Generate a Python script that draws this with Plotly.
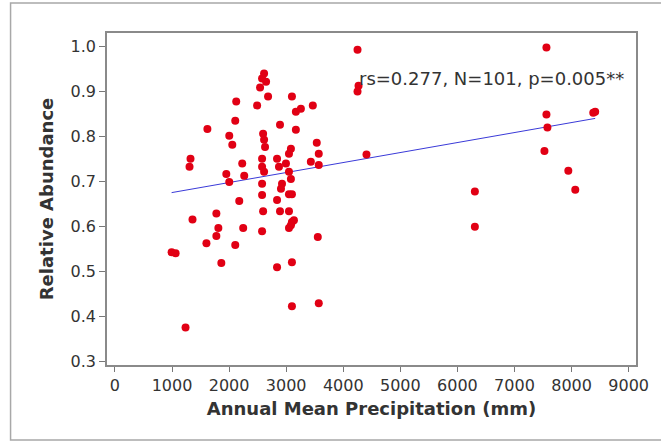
import plotly.graph_objects as go

# Data (Annual mean precipitation in mm, relative abundance)
precip = [2613, 2578, 2648, 2543, 2125, 2683, 2491, 3101, 3170, 3258,
          3467, 2108, 1620, 2892, 3170, 2003, 2596, 2613, 2630, 2056,
          3536, 3083, 3049, 3571, 1324, 1307, 2230, 2578, 2578, 2613,
          2840, 2874, 2996, 3049, 3083, 3432, 3571, 1951, 2003, 2265,
          2578, 2927, 2909, 2578, 2840, 3101, 2178, 3049, 1359, 1777,
          2596, 2892, 3049, 3136, 3101, 3083, 3049, 1812, 1777, 2247,
          2578, 1603, 2108, 3554, 993, 1063, 1864, 2840, 3101, 3101,
          3571, 1237, 4250, 7560, 4268, 4250, 4407, 7560, 7577, 7525,
          8414, 8380, 7943, 8065, 6306, 6306]
abundance = [0.940, 0.929, 0.922, 0.909, 0.878, 0.889, 0.869, 0.889, 0.855, 0.862,
             0.869, 0.835, 0.817, 0.826, 0.815, 0.802, 0.806, 0.793, 0.777, 0.782,
             0.786, 0.773, 0.762, 0.762, 0.751, 0.733, 0.740, 0.751, 0.733, 0.722,
             0.751, 0.733, 0.740, 0.722, 0.706, 0.744, 0.737, 0.717, 0.699, 0.713,
             0.695, 0.695, 0.684, 0.670, 0.659, 0.672, 0.657, 0.672, 0.616, 0.629,
             0.634, 0.634, 0.634, 0.614, 0.610, 0.603, 0.597, 0.597, 0.579, 0.597,
             0.590, 0.563, 0.559, 0.577, 0.543, 0.541, 0.519, 0.510, 0.521, 0.423,
             0.430, 0.376, 0.993, 0.998, 0.913, 0.900, 0.760, 0.849, 0.820, 0.768,
             0.855, 0.853, 0.724, 0.682, 0.678, 0.600]

# Fitted line parameters
fit_intercept = 0.6535
fit_slope = 2.22e-5

x_ticks = [0, 1000, 2000, 3000, 4000, 5000, 6000, 7000, 8000, 9000]
y_ticks = [0.3, 0.4, 0.5, 0.6, 0.7, 0.8, 0.9, 1.0]
y_tick_text = ["0.3", "0.4", "0.5", "0.6", "0.7", "0.8", "0.9", "1.0"]
stats_text = "rs=0.277, N=101, p=0.005**"

fx = [min(precip), max(precip)]
fy = [fit_intercept + fit_slope * v for v in fx]

FONT = "DejaVu Sans"
TXT = "#333333"

fig = go.Figure()
fig.add_trace(go.Scatter(
    x=fx, y=fy, mode="lines",
    line=dict(color="#3a3ad8", width=1),
    hoverinfo="skip", showlegend=False))
fig.add_trace(go.Scatter(
    x=precip, y=abundance, mode="markers",
    marker=dict(color="rgb(225,0,20)", size=8, line=dict(width=0)),
    showlegend=False))

fig.add_annotation(
    x=4233, y=0.929, xref="x", yref="y", text=stats_text,
    showarrow=False, xanchor="left", yanchor="middle",
    font=dict(family=FONT, size=18, color=TXT))

# outer light border of the graph
fig.add_shape(type="rect", xref="paper", yref="paper",
              x0=-0.1823, x1=1.12, y0=-0.2259, y1=1.0904,
              line=dict(color="#a8a8a8", width=1.5), layer="below")

fig.update_layout(
    width=661, height=442,
    margin=dict(l=107, r=22, t=33, b=77),
    paper_bgcolor="white", plot_bgcolor="white",
    font=dict(family=FONT, color=TXT),
    xaxis=dict(
        range=[-139, 9129], tickvals=x_ticks,
        ticks="outside", ticklen=5, tickcolor="#777",
        showgrid=False, zeroline=False,
        showline=True, linecolor="#8a8a8a", linewidth=1.5, mirror=True,
        tickfont=dict(family=FONT, size=16, color=TXT),
        title=dict(text="<b>Annual Mean Precipitation (mm)</b>",
                   font=dict(family=FONT, size=18, color=TXT), standoff=8)),
    yaxis=dict(
        range=[0.2927, 1.030], tickvals=y_ticks, ticktext=y_tick_text,
        ticks="outside", ticklen=6, tickcolor="#777",
        showgrid=False, zeroline=False,
        showline=True, linecolor="#8a8a8a", linewidth=1.5, mirror=True,
        tickfont=dict(family=FONT, size=16, color=TXT),
        title=dict(text="<b>Relative Abundance</b>",
                   font=dict(family=FONT, size=18, color=TXT), standoff=12)),
)

fig.write_html("out.html")
